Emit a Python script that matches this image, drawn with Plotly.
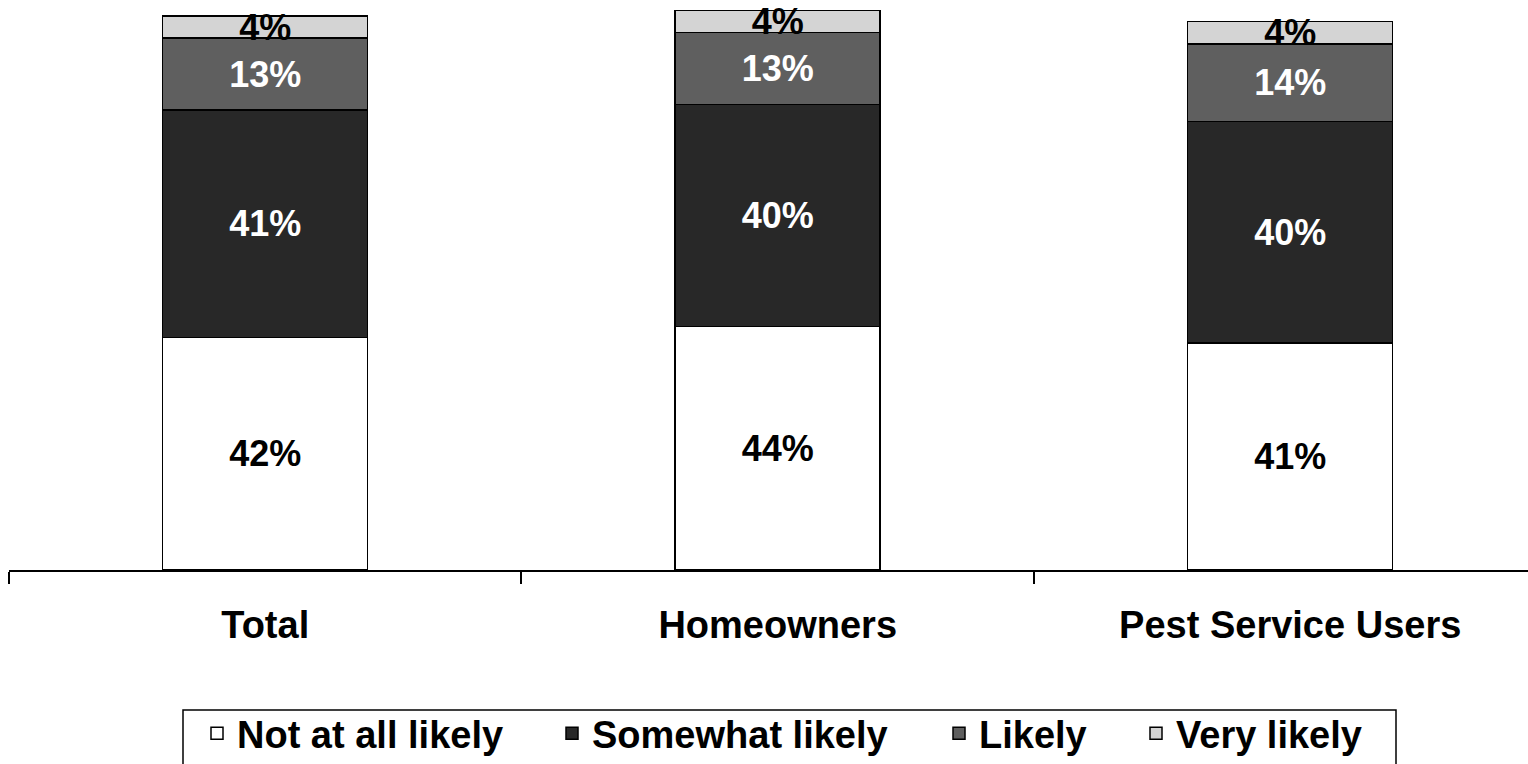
import plotly.graph_objects as go

# Survey groups and response shares (%)
groups = ["Total", "Homeowners", "Pest Service Users"]
not_at_all = [42, 44, 41]
somewhat = [41, 40, 40]
likely = [13, 13, 14]
very_likely = [4, 4, 4]

series = [
    ("Not at all likely", not_at_all, "#ffffff", "#000000"),
    ("Somewhat likely", somewhat, "#282828", "#ffffff"),
    ("Likely", likely, "#5f5f5f", "#ffffff"),
    ("Very likely", very_likely, "#d4d4d4", "#000000"),
]

FONT = "Liberation Sans, Arial, sans-serif"
W, H = 1528, 764
ML, MR, MT, MB = 9, 0, 0, 194

# left edge (px) of each legend entry along the bottom row
legend_left_px = [197, 552, 939, 1136]
legend_top_px = 702
# legend frame (px)
frame_left, frame_right, frame_top, frame_bottom = 183, 1396, 710, 780

fig = go.Figure()
for i, (name, vals, fill, txt) in enumerate(series):
    fig.add_trace(go.Bar(
        name=name,
        x=groups,
        y=vals,
        width=0.4,
        marker=dict(color=fill, line=dict(color="#000000", width=1.5)),
        text=[f"<b>{v}%</b>" for v in vals],
        textposition="inside",
        insidetextanchor="middle",
        textangle=0,
        constraintext="none",
        textfont=dict(family=FONT, size=36, color=txt),
        hoverinfo="skip",
        legend="legend" if i == 0 else f"legend{i + 1}",
    ))

legend_common = dict(
    orientation="h",
    xref="container",
    yref="container",
    xanchor="left",
    yanchor="top",
    y=1 - legend_top_px / H,
    borderwidth=0,
    bgcolor="rgba(0,0,0,0)",
    font=dict(family=FONT, size=38, color="#000000", weight="bold"),
)
legends = {}
for i, lx in enumerate(legend_left_px):
    key = "legend" if i == 0 else f"legend{i + 1}"
    legends[key] = dict(legend_common, x=lx / W)

plot_w = W - ML - MR
plot_h = H - MT - MB

fig.update_layout(
    barmode="stack",
    width=W,
    height=H,
    margin=dict(l=ML, r=MR, t=MT, b=MB, autoexpand=False),
    paper_bgcolor="#ffffff",
    plot_bgcolor="#ffffff",
    font=dict(family=FONT, color="#000000"),
    showlegend=True,
    **legends,
    # frame around the legend row
    shapes=[dict(
        type="rect",
        xref="paper", yref="paper",
        x0=(frame_left - ML) / plot_w, x1=(frame_right - ML) / plot_w,
        y0=(plot_h - frame_bottom) / plot_h, y1=(plot_h - frame_top) / plot_h,
        line=dict(color="#000000", width=1.5),
        fillcolor="rgba(0,0,0,0)",
        layer="below",
    )],
    xaxis=dict(
        type="category",
        range=[-0.5, 2.464],
        showline=True,
        linecolor="#000000",
        linewidth=1.5,
        ticks="outside",
        tickson="boundaries",
        ticklen=12,
        tickwidth=1.5,
        tickcolor="#000000",
        ticklabelstandoff=21,
        tickfont=dict(family=FONT, size=38, color="#000000", weight="bold"),
        showgrid=False,
        zeroline=False,
    ),
    yaxis=dict(
        range=[0, 102.9],
        visible=False,
        showgrid=False,
        zeroline=False,
    ),
)

fig.write_html("out.html")
